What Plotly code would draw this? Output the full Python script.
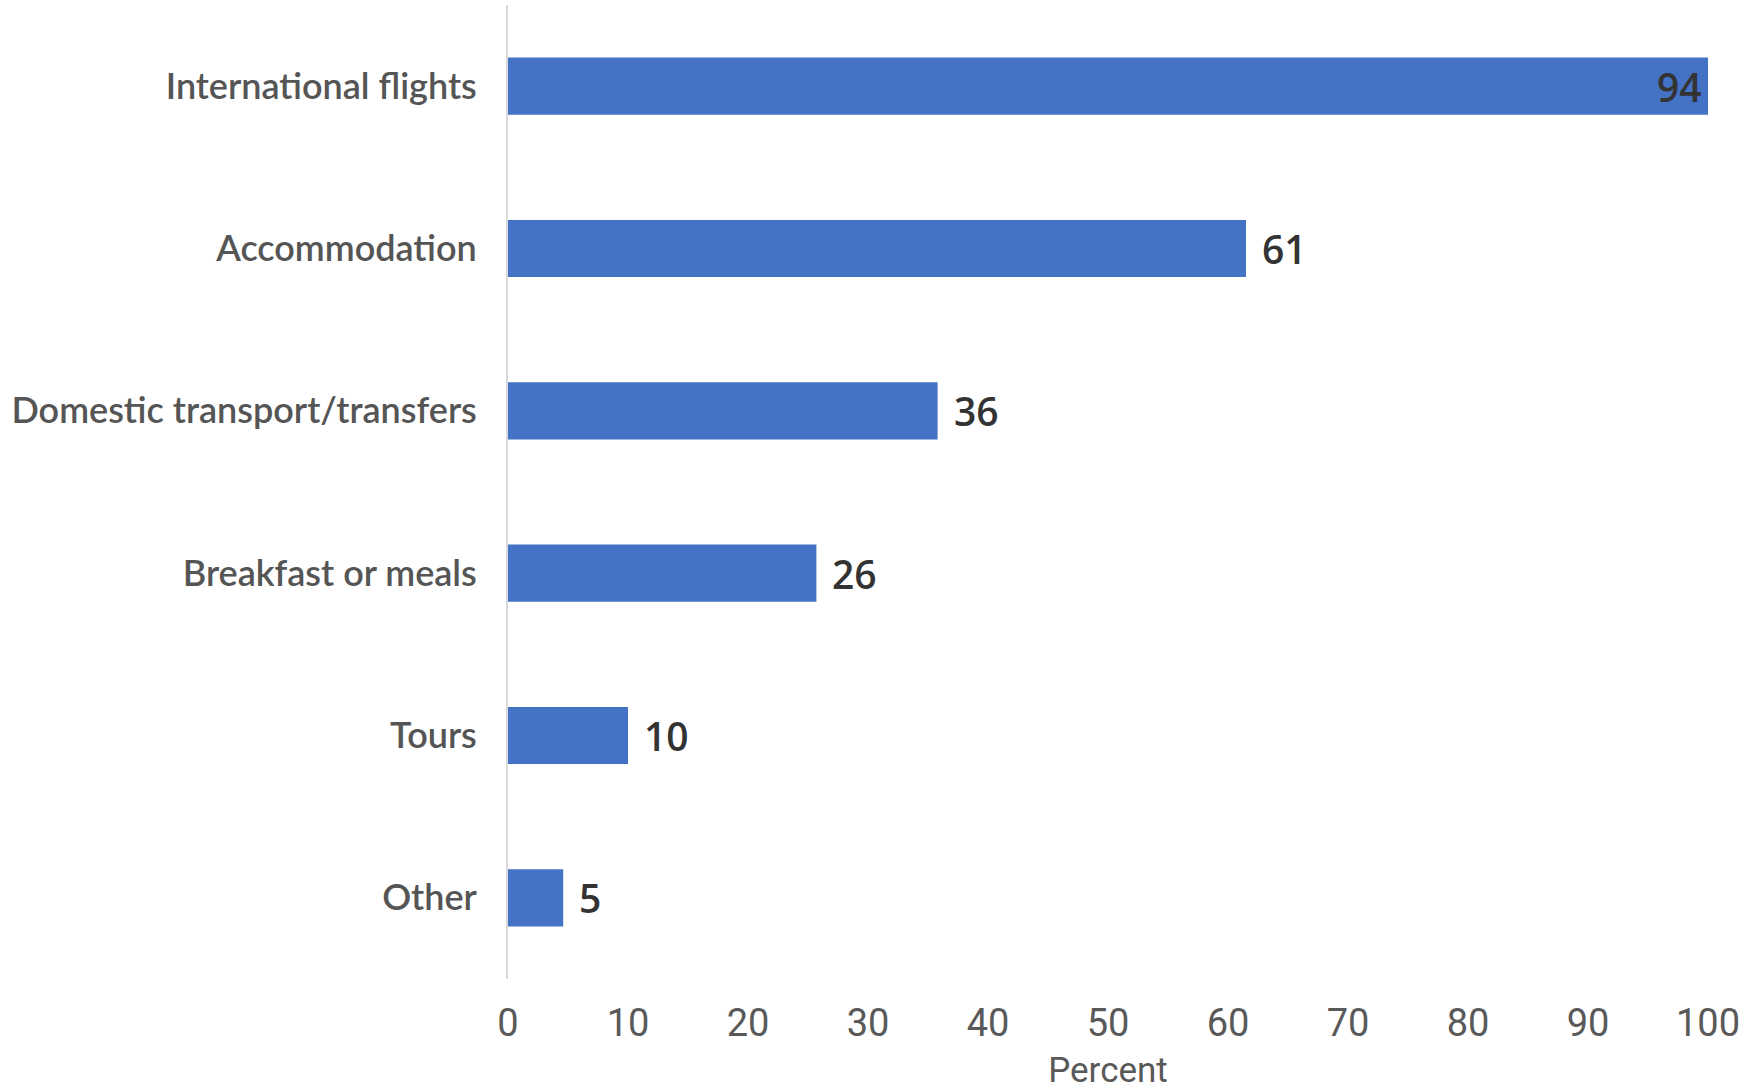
import plotly.graph_objects as go

categories = ["International flights", "Accommodation", "Domestic transport/transfers",
              "Breakfast or meals", "Tours", "Other"]
bar_lengths = [100, 61.5, 35.8, 25.7, 10.0, 4.6]
value_labels = ["94", "61", "36", "26", "10", "5"]
x_ticks = [0, 10, 20, 30, 40, 50, 60, 70, 80, 90, 100]

fig = go.Figure()
fig.add_trace(go.Bar(
    x=bar_lengths, y=categories, orientation="h",
    marker=dict(color="#4472C4", line=dict(width=0)),
    width=0.352, hoverinfo="skip",
))

for i, (v, lab) in enumerate(zip(bar_lengths, value_labels)):
    inside = v >= 95
    fig.add_annotation(
        x=v, y=categories[i], xref="x", yref="y", text=lab, showarrow=False,
        xanchor="right" if inside else "left", xshift=-4 if inside else 14,
        font=dict(family="Open Sans", size=39, color="#333333", weight=600),
    )

fig.update_layout(
    width=1747, height=1091,
    margin=dict(l=508, r=39, t=5, b=112),
    paper_bgcolor="white", plot_bgcolor="white",
    showlegend=False,
    xaxis=dict(range=[0, 100], tickvals=x_ticks, showgrid=False, zeroline=False,
               showline=False, ticks="", ticklabelstandoff=18, automargin=False,
               tickfont=dict(family="Roboto", size=38, color="#595959"),
               title=dict(text="Percent", standoff=17,
                          font=dict(family="Roboto", size=35, color="#595959"))),
    yaxis=dict(categoryorder="array", categoryarray=categories, autorange="reversed",
               showgrid=False, zeroline=False, showline=True, linecolor="#D9D9D9", linewidth=2,
               ticks="", ticklabelstandoff=22, automargin=False,
               tickfont=dict(family="Lato", size=36, color="#555555", weight=600)),
)

fig.write_html("out.html", config={"displayModeBar": False},
               post_script="document.body.style.margin='0';document.body.style.padding='0';")
